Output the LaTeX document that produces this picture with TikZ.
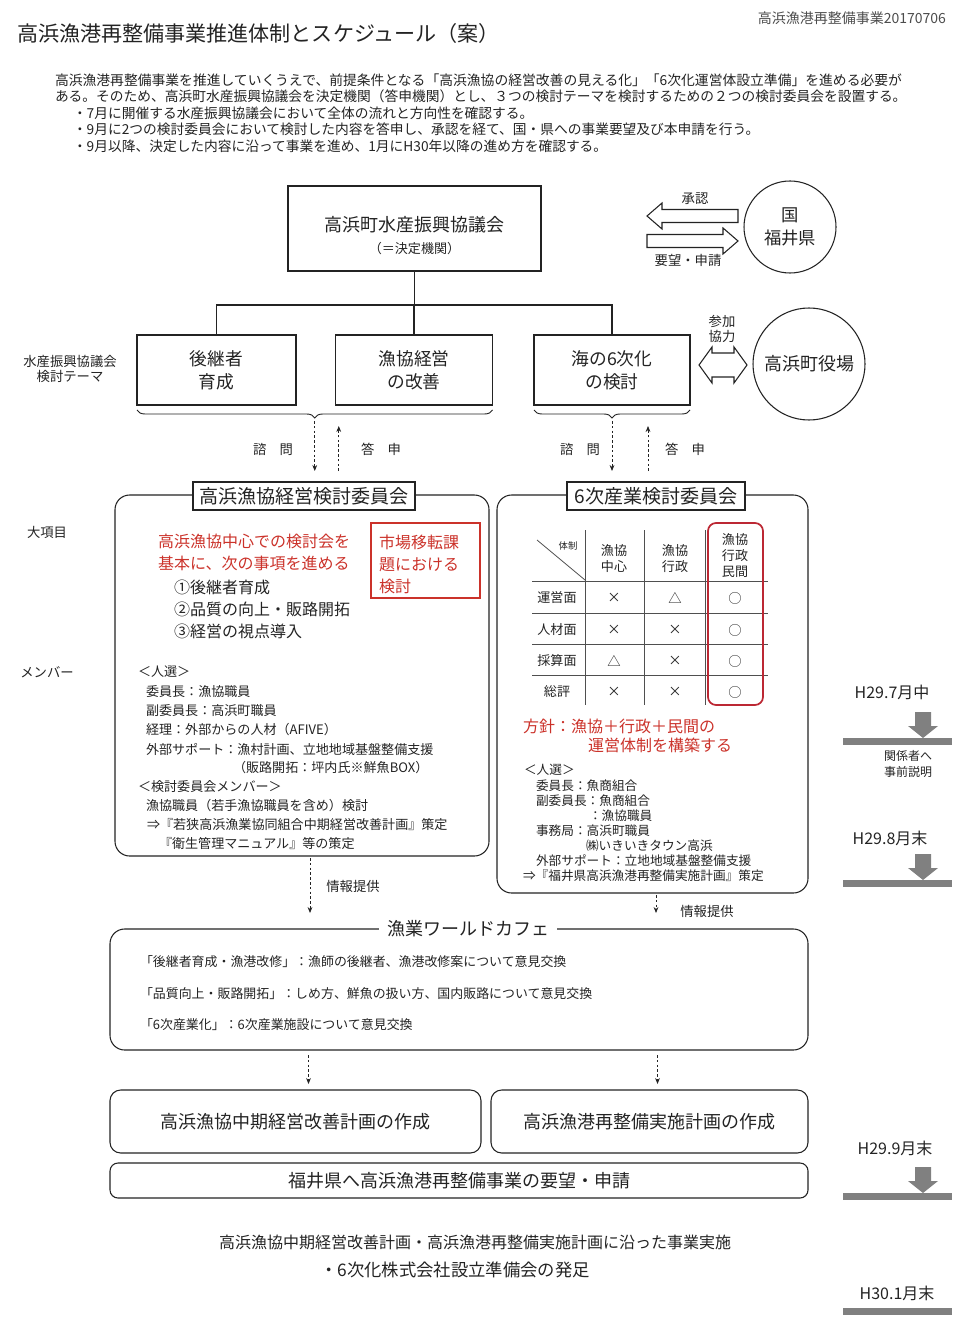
\documentclass[tikz,border=0pt]{standalone}
\usepackage{fontspec}
\setmainfont{Noto Sans CJK JP}
\usepackage{xcolor}
\usetikzlibrary{positioning, calc, arrows.meta, decorations.pathreplacing}

\definecolor{memoRed}{RGB}{203,50,42}
\definecolor{colRed}{RGB}{188,40,52}
\definecolor{barGray}{RGB}{128,128,128}
\definecolor{inkGray}{RGB}{35,35,35}

\newcommand{\pxu}{0.75pt}
\newcommand{\fsz}[2]{\fontsize{#1pt}{#2pt}\selectfont}

\begin{document}
\begin{tikzpicture}[
  x=0.75pt, y=-0.75pt,
  every node/.style={inner sep=0pt, outer sep=0pt, text=inkGray},
  frame/.style={draw=inkGray, line width=0.8pt},
  roundframe/.style={frame, rounded corners=11pt},
  memo/.style={anchor=west, font=\fsz{9.8}{12}},
  memoS/.style={anchor=west, font=\fsz{9.5}{12}},
  redtext/.style={anchor=west, align=left, text=memoRed, font=\fsz{12}{16.5}},
  hollow/.style={draw=inkGray, line width=0.8pt, fill=white},
  infoflow/.style={draw=inkGray, line width=0.6pt, dash pattern=on 2pt off 1.6pt,
                   -{Stealth[length=4.5pt, width=3.6pt]}},
  smalllabel/.style={font=\fsz{10}{11.5}, align=center},
  milestone/.style={font=\fsz{12}{14}},
]
\useasboundingbox (0,0) rectangle (960,1326);

% ---- 1. heading and introduction ----
\node[anchor=east, font=\fsz{10.5}{12}, text=black!70] (stamp) at (946,18) {高浜漁港再整備事業20170706};
\node[anchor=west, font=\fsz{15.8}{18}] (title) at (17,34) {高浜漁港再整備事業推進体制とスケジュール（案）};

\node[anchor=west, font=\fsz{10.35}{12}] (introA) at (55,80) {高浜漁港再整備事業を推進していくうえで、前提条件となる「高浜漁協の経営改善の見える化」「6次化運営体設立準備」を進める必要が};
\node[anchor=west, font=\fsz{10.3}{12}] (introB) at (55,96) {ある。そのため、高浜町水産振興協議会を決定機関（答申機関）とし、３つの検討テーマを検討するための２つの検討委員会を設置する。};
\node[anchor=west, font=\fsz{10.3}{12}] (introC) at (73,113) {・7月に開催する水産振興協議会において全体の流れと方向性を確認する。};
\node[anchor=west, font=\fsz{10.3}{12}] (introD) at (73,129) {・9月に2つの検討委員会において検討した内容を答申し、承認を経て、国・県への事業要望及び本申請を行う。};
\node[anchor=west, font=\fsz{10.3}{12}] (introE) at (73,146) {・9月以降、決定した内容に沿って事業を進め、1月にH30年以降の進め方を確認する。};

% ---- 2. council, prefecture and town ----
\node[frame, minimum width=253*\pxu, minimum height=85*\pxu] (council) at (414.5,228.5) {};
\node[font=\fsz{13.5}{16}] (councilName) at (414.5,225) {高浜町水産振興協議会};
\node[font=\fsz{9.8}{11}] (councilRole) at (414.5,249) {（＝決定機関）};

\node[draw=inkGray, line width=0.8pt, circle, minimum size=92*\pxu, align=center, font=\fsz{13}{17}] (pref) at (790,227) {国\\福井県};
\node[draw=inkGray, line width=0.8pt, circle, minimum size=112*\pxu, font=\fsz{13.5}{16}] (town) at (809,364) {高浜町役場};

% hollow arrows to / from the prefecture
\coordinate (approvalTip) at (647,216);
\coordinate (requestTip)  at (738,241);
\draw[hollow] (approvalTip) -- ++(15,-13) -- ++(0,6.5) -- ++(76,0) -- ++(0,13)
  -- ++(-76,0) -- ++(0,6.5) -- cycle;
\draw[hollow] (requestTip) -- ++(-15,-13) -- ++(0,6.5) -- ++(-76,0) -- ++(0,13)
  -- ++(76,0) -- ++(0,6.5) -- cycle;
\node[smalllabel] (approvalLbl) at (695,199) {承認};
\node[smalllabel] (requestLbl) at (688,260) {要望・申請};

% two-headed arrow to the town office
\coordinate (coopL) at (699,365);
\draw[hollow] (coopL) -- ++(13,-18) -- ++(0,6) -- ++(22,0) -- ++(0,-6) -- ++(13,18)
  -- ++(-13,18) -- ++(0,-6) -- ++(-22,0) -- ++(0,6) -- cycle;
\node[smalllabel] (coopLbl) at (722,329) {参加\\協力};

% ---- 3. themes ----
\node[frame, minimum width=159*\pxu, minimum height=70*\pxu, align=center, font=\fsz{13.3}{17}] (themeA) at (216.5,370) {後継者\\育成};
\node[frame, minimum width=157*\pxu, minimum height=70*\pxu, align=center, font=\fsz{13.3}{17}] (themeB) at (414,370) {漁協経営\\の改善};
\node[frame, minimum width=156*\pxu, minimum height=70*\pxu, align=center, font=\fsz{13.3}{17}] (themeC) at (612,370) {海の6次化\\の検討};
\node[smalllabel] (themeSide) at (70,369) {水産振興協議会\\検討テーマ};

\coordinate (treeBar) at (0,305);
\draw[line width=0.8pt, inkGray] (council.south) -- (council.south |- treeBar);
\draw[line width=0.8pt, inkGray] (themeA.north) -- (themeA.north |- treeBar) -| (themeC.north);
\draw[line width=0.8pt, inkGray] (themeB.north) -- (themeB.north |- treeBar);

% braces and consultation arrows
\draw[inkGray, line width=0.7pt, decorate, decoration={brace, mirror, amplitude=6pt}]
  ($(themeA.south west)+(0,5)$) -- ($(themeB.south east)+(0,5)$);
\draw[inkGray, line width=0.7pt, decorate, decoration={brace, mirror, amplitude=6pt}]
  ($(themeC.south west)+(0,5)$) -- ($(themeC.south east)+(0,5)$);
\coordinate (braceTipA) at ($(themeA.south west)!0.5!(themeB.south east)+(0,16)$);
\coordinate (braceTipC) at ($(themeC.south)+(0,16)$);

\draw[infoflow] (braceTipA) -- ++(0,50);
\draw[infoflow] ($(braceTipA)+(24,50)$) -- ++(0,-45);
\draw[infoflow] (braceTipC) -- ++(0,50);
\draw[infoflow] ($(braceTipC)+(36,50)$) -- ++(0,-45);
\node[smalllabel] (askA) at (273,449) {諮　問};
\node[smalllabel] (ansA) at (381,449) {答　申};
\node[smalllabel] (askC) at (580,449) {諮　問};
\node[smalllabel] (ansC) at (685,449) {答　申};

% ---- 4. committee: management ----
\node[roundframe, minimum width=374*\pxu, minimum height=361*\pxu] (mgmtCom) at (302,675.5) {};
\node[frame, fill=white, minimum width=222*\pxu, minimum height=28*\pxu, font=\fsz{14.3}{18}] (mgmtTitle) at (304,496) {高浜漁協経営検討委員会};

\node[smalllabel] (majorLbl) at (47,532) {大項目};
\node[smalllabel] (memberLbl) at (47,672) {メンバー};

\node[redtext] (focusText) at (158,552.5) {高浜漁協中心での検討会を\\基本に、次の事項を進める};
\node[anchor=west, align=left, font=\fsz{12}{16.8}] (focusItems) at (174,609.5) {①後継者育成\\②品質の向上・販路開拓\\③経営の視点導入};

\node[draw=memoRed, line width=0.9pt, minimum width=109*\pxu, minimum height=75*\pxu] (marketBox) at (425.5,560.5) {};
\node[redtext] (marketText) at (379,564) {市場移転課\\題における\\検討};

\node[memo] (mgSel)    at (138,672) {＜人選＞};
\node[memo] (mgChair)  at (146,692) {委員長：漁協職員};
\node[memo] (mgVice)   at (146,711) {副委員長：高浜町職員};
\node[memo] (mgAcct)   at (146,730) {経理：外部からの人材（AFIVE）};
\node[memo] (mgSupp)   at (146,749) {外部サポート：漁村計画、立地地域基盤整備支援};
\node[memo] (mgSales)  at (233,768) {（販路開拓：坪内氏※鮮魚BOX）};
\node[memo] (mgMem)    at (138,787) {＜検討委員会メンバー＞};
\node[memo] (mgStaff)  at (146,806) {漁協職員（若手漁協職員を含め）検討};
\node[memo] (mgPlan)   at (147,825) {⇒『若狭高浜漁業協同組合中期経営改善計画』策定};
\node[memo] (mgManual) at (159,844) {『衛生管理マニュアル』等の策定};

% ---- 5. committee: sixth industry ----
\node[roundframe, minimum width=311*\pxu, minimum height=398*\pxu] (sixCom) at (652.5,694) {};
\node[frame, fill=white, minimum width=178*\pxu, minimum height=28*\pxu, font=\fsz{14.3}{18}] (sixTitle) at (656,496) {6次産業検討委員会};

% table grid
\foreach \gx in {585, 644, 705}
  \draw[inkGray!80, line width=0.6pt] (\gx,530) -- (\gx,705);
\foreach \gy in {581, 613, 644, 675}
  \draw[inkGray!80, line width=0.6pt] (532,\gy) -- (768,\gy);
\draw[inkGray!80, line width=0.6pt] (537,540) -- (585,580);
\draw[colRed, line width=1.3pt, rounded corners=6pt] (708,523) rectangle (763,705);

\node[font=\fsz{7}{8}] (tblCorner) at (568,546) {体制};
\node[font=\fsz{9.8}{12}, align=center] (hdA) at (614,559) {漁協\\中心};
\node[font=\fsz{9.8}{12}, align=center] (hdB) at (675,559) {漁協\\行政};
\node[font=\fsz{9.8}{12}, align=center] (hdC) at (735,556) {漁協\\行政\\民間};

\foreach \ry/\rname/\sa/\sb/\sc [count=\r] in {598/運営面/×/△/○, 630/人材面/×/×/○, 661/採算面/△/×/○, 692/総評/×/×/○} {
  \node[font=\fsz{9.8}{12}] (row\r) at (557,\ry) {\rname};
  \node[font=\fsz{10}{12}] (cell\r a) at (614,\ry) {\sa};
  \node[font=\fsz{10}{12}] (cell\r b) at (675,\ry) {\sb};
  \node[font=\fsz{10}{12}] (cell\r c) at (735,\ry) {\sc};
}

\node[anchor=west, text=memoRed, font=\fsz{12}{14}] (policyA) at (523,726) {方針：漁協＋行政＋民間の};
\node[anchor=west, text=memoRed, font=\fsz{12}{14}] (policyB) at (588,745) {運営体制を構築する};

\node[memoS] (sxSel)   at (524,770) {＜人選＞};
\node[memoS] (sxChair) at (536,786) {委員長：魚商組合};
\node[memoS] (sxVice)  at (536,801) {副委員長：魚商組合};
\node[memoS] (sxViceB) at (589,816) {：漁協職員};
\node[memoS] (sxOff)   at (536,831) {事務局：高浜町職員};
\node[memoS] (sxOffB)  at (586,846) {㈱いきいきタウン高浜};
\node[memoS] (sxSupp)  at (536,861) {外部サポート：立地地域基盤整備支援};
\node[memoS] (sxPlan)  at (523,876) {⇒『福井県高浜漁港再整備実施計画』策定};

% ---- 6. world cafe ----
\node[roundframe, minimum width=698*\pxu, minimum height=121*\pxu] (cafe) at (459,989.5) {};
\node[fill=white, inner xsep=6pt, font=\fsz{13.5}{16}] (cafeTitle) at (468,929) {漁業ワールドカフェ};
\node[anchor=west, font=\fsz{9.7}{12}] (cafeA) at (140,962) {「後継者育成・漁港改修」：漁師の後継者、漁港改修案について意見交換};
\node[anchor=west, font=\fsz{9.7}{12}] (cafeB) at (140,994) {「品質向上・販路開拓」：しめ方、鮮魚の扱い方、国内販路について意見交換};
\node[anchor=west, font=\fsz{9.7}{12}] (cafeC) at (140,1025) {「6次産業化」：6次産業施設について意見交換};

\draw[infoflow] ($(mgmtCom.south)+(8,2)$) -- ($(mgmtCom.south)+(8,57)$);
\draw[infoflow] ($(sixCom.south)+(3.5,2)$) -- ($(sixCom.south)+(3.5,20)$);
\node[smalllabel] (infoA) at (353,886) {情報提供};
\node[smalllabel] (infoB) at (707,911) {情報提供};

% ---- 7. plans and request ----
\node[roundframe, rounded corners=8pt, minimum width=371*\pxu, minimum height=63*\pxu, font=\fsz{13.5}{16}] (planA) at (295.5,1121.5) {高浜漁協中期経営改善計画の作成};
\node[roundframe, rounded corners=8pt, minimum width=317*\pxu, minimum height=63*\pxu, font=\fsz{13.5}{16}] (planB) at (649.5,1121.5) {高浜漁港再整備実施計画の作成};
\node[roundframe, rounded corners=6pt, minimum width=698*\pxu, minimum height=35*\pxu, font=\fsz{13.5}{16}] (request) at (459,1180.5) {福井県へ高浜漁港再整備事業の要望・申請};

\draw[infoflow] (cafe.south -| planA) ++(13,5) -- ($(planA.north)+(13,-6)$);
\draw[infoflow] (cafe.south -| planB) ++(8,5) -- ($(planB.north)+(8,-6)$);

\node[font=\fsz{12}{14}] (doneA) at (475,1242) {高浜漁協中期経営改善計画・高浜漁港再整備実施計画に沿った事業実施};
\node[font=\fsz{13}{15}] (doneB) at (455,1270) {・6次化株式会社設立準備会の発足};

% ---- 8. schedule on the right ----
\node[milestone] (msJul) at (892,692) {H29.7月中};
\node[font=\fsz{9}{12}, align=center] (msJulNote) at (908,764) {関係者へ\\事前説明};
\node[milestone] (msAug) at (890,838) {H29.8月末};
\node[milestone] (msSep) at (895,1148) {H29.9月末};
\node[milestone] (msJan) at (897,1293) {H30.1月末};

\foreach \barY in {738, 880, 1193, 1308}
  \fill[barGray] (843,\barY) rectangle (952,\barY+7);
\foreach \barY in {738, 880, 1193}
  \fill[barGray] (915,\barY-26) -- (931,\barY-26) -- (931,\barY-12) -- (938,\barY-12)
    -- (923,\barY) -- (908,\barY-12) -- (915,\barY-12) -- cycle;

\end{tikzpicture}
\end{document}
